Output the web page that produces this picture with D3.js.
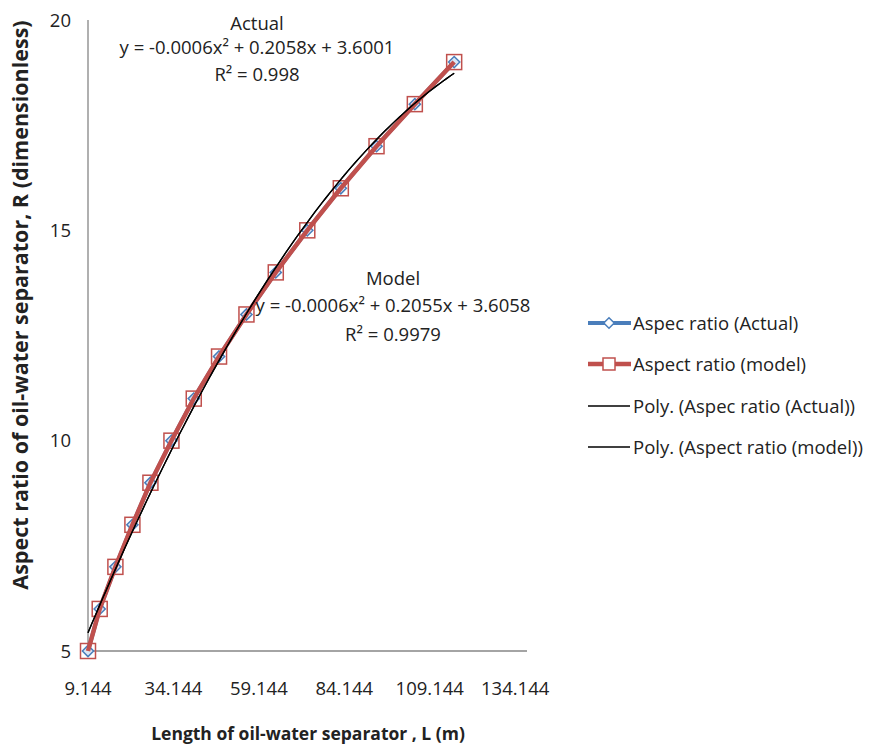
<!DOCTYPE html>
<html>
<head>
<meta charset="utf-8">
<script src="https://cdn.jsdelivr.net/npm/d3@7"></script>
<style>
  body { margin: 0; background: #fff; }
  text { font-family: 'Open Sans', sans-serif; fill: #222; }
</style>
</head>
<body>
<svg id="chart" width="869" height="749"></svg>
<script>
// values
const lengthActual = [9.144, 12.57, 17.16, 22.14, 27.41, 33.56, 40.09, 47.49, 55.51, 64.09, 73.31, 83.12, 93.57, 104.78, 116.29]
const ratioActual = [5, 6, 7, 8, 9, 10, 11, 12, 13, 14, 15, 16, 17, 18, 19]
const lengthModel = [9.144, 12.57, 17.16, 22.14, 27.41, 33.56, 40.09, 47.49, 55.51, 64.09, 73.31, 83.12, 93.57, 104.78, 116.29]
const ratioModel = [5, 6, 7, 8, 9, 10, 11, 12, 13, 14, 15, 16, 17, 18, 19]
const xTicks = [9.144, 34.144, 59.144, 84.144, 109.144, 134.144]
const yTicks = [5, 10, 15, 20]
const legendLabels = ['Aspec ratio (Actual)', 'Aspect ratio (model)', 'Poly. (Aspec ratio (Actual))', 'Poly. (Aspect ratio (model))']

const svg = d3.select('#chart')

const xs = d3.scaleLinear().domain([9.144, 137.6]).range([88, 527])
const ys = d3.scaleLinear().domain([5, 20]).range([651, 20])

// least squares quadratic fit (Excel style poly trendline)
function polyFit(xv, yv) {
  let s = [0, 0, 0, 0, 0], t = [0, 0, 0]
  xv.forEach((x, i) => {
    for (let k = 0; k < 5; k++) s[k] += Math.pow(x, k)
    for (let k = 0; k < 3; k++) t[k] += Math.pow(x, k) * yv[i]
  })
  // solve 3x3 system by Cramer's rule
  const m = [[s[0], s[1], s[2]], [s[1], s[2], s[3]], [s[2], s[3], s[4]]]
  const det = (a) =>
    a[0][0] * (a[1][1] * a[2][2] - a[1][2] * a[2][1]) -
    a[0][1] * (a[1][0] * a[2][2] - a[1][2] * a[2][0]) +
    a[0][2] * (a[1][0] * a[2][1] - a[1][1] * a[2][0])
  const D = det(m)
  const coef = [0, 1, 2].map((c) => {
    const mc = m.map((row, r) => row.map((v, j) => (j === c ? t[r] : v)))
    return det(mc) / D
  })
  return (x) => coef[0] + coef[1] * x + coef[2] * x * x
}

// axes
const axisColor = '#868686'
svg.append('line').attr('x1', xs(9.144)).attr('x2', xs(9.144))
  .attr('y1', ys(5)).attr('y2', ys(20)).attr('stroke', axisColor).attr('stroke-width', 1.3)
svg.append('line').attr('x1', xs(9.144)).attr('x2', xs(137.6))
  .attr('y1', ys(5)).attr('y2', ys(5)).attr('stroke', axisColor).attr('stroke-width', 1.3)

svg.append('g').selectAll('text').data(xTicks).join('text')
  .attr('x', (d) => xs(d)).attr('y', 695)
  .attr('text-anchor', 'middle').attr('font-size', 18.5)
  .text((d) => d.toFixed(3))

svg.append('g').selectAll('text').data(yTicks).join('text')
  .attr('x', 71).attr('y', (d) => ys(d) + 6.5)
  .attr('text-anchor', 'end').attr('font-size', 18.5)
  .text((d) => d)

svg.append('text').attr('x', 308).attr('y', 740)
  .attr('text-anchor', 'middle').attr('font-size', 17.5).attr('font-weight', 'bold')
  .text('Length of oil-water separator , L (m)')

svg.append('text').attr('transform', 'translate(28, 305) rotate(-90)')
  .attr('text-anchor', 'middle').attr('font-size', 21.5).attr('font-weight', 'bold')
  .text('Aspect ratio of oil-water separator, R (dimensionless)')

// series
const actual = lengthActual.map((x, i) => ({ x: x, y: ratioActual[i] }))
const model = lengthModel.map((x, i) => ({ x: x, y: ratioModel[i] }))
const line = d3.line().x((d) => xs(d.x)).y((d) => ys(d.y))

svg.append('path').datum(actual).attr('d', line)
  .attr('fill', 'none').attr('stroke', '#4a7ebb').attr('stroke-width', 4)
svg.append('g').selectAll('path').data(actual).join('path')
  .attr('transform', (d) => `translate(${xs(d.x)},${ys(d.y)})`)
  .attr('d', d3.symbol(d3.symbolDiamond2, 80))
  .attr('fill', '#dbe6f4').attr('stroke', '#4a7ebb').attr('stroke-width', 1.5)

svg.append('path').datum(model).attr('d', line)
  .attr('fill', 'none').attr('stroke', '#c0504d').attr('stroke-width', 4.5)
svg.append('g').selectAll('rect').data(model).join('rect')
  .attr('x', (d) => xs(d.x) - 7.5).attr('y', (d) => ys(d.y) - 7.5)
  .attr('width', 15).attr('height', 15)
  .attr('fill', 'none').attr('stroke', '#c0504d').attr('stroke-width', 1.5)

// trendlines
;[[lengthActual, ratioActual], [lengthModel, ratioModel]].forEach(([xv, yv]) => {
  const f = polyFit(xv, yv)
  const pts = d3.range(0, 101).map((k) => {
    const x = xv[0] + (xv[xv.length - 1] - xv[0]) * k / 100
    return { x: x, y: f(x) }
  })
  svg.append('path').datum(pts).attr('d', line)
    .attr('fill', 'none').attr('stroke', '#000').attr('stroke-width', 1.3)
})

// equation labels
function label(cx, lines) {
  lines.forEach(([y, txt]) => {
    svg.append('text').attr('x', cx).attr('y', y)
      .attr('text-anchor', 'middle').attr('font-size', 18.5)
      .text(txt)
  })
}
label(257, [
  [30, 'Actual'],
  [54, 'y = -0.0006x² + 0.2058x + 3.6001'],
  [81, 'R² = 0.998'],
])
label(393, [
  [285, 'Model'],
  [312, 'y = -0.0006x² + 0.2055x + 3.6058'],
  [341, 'R² = 0.9979'],
])

// legend
const legendY = [323, 364, 406, 447]
const lg = svg.append('g')
legendLabels.forEach((name, i) => {
  const y = legendY[i]
  if (i === 0) {
    lg.append('line').attr('x1', 588).attr('x2', 631).attr('y1', y).attr('y2', y)
      .attr('stroke', '#4a7ebb').attr('stroke-width', 4)
    lg.append('path').attr('transform', `translate(609,${y})`)
      .attr('d', d3.symbol(d3.symbolDiamond2, 70))
      .attr('fill', '#fff').attr('stroke', '#4a7ebb').attr('stroke-width', 1.5)
  } else if (i === 1) {
    lg.append('line').attr('x1', 588).attr('x2', 631).attr('y1', y).attr('y2', y)
      .attr('stroke', '#c0504d').attr('stroke-width', 4.5)
    lg.append('rect').attr('x', 603).attr('y', y - 6).attr('width', 12).attr('height', 12)
      .attr('fill', '#fff').attr('stroke', '#c0504d').attr('stroke-width', 1.5)
  } else {
    lg.append('line').attr('x1', 588).attr('x2', 630).attr('y1', y).attr('y2', y)
      .attr('stroke', '#000').attr('stroke-width', 1.3)
  }
  lg.append('text').attr('x', 633).attr('y', y + 6.5).attr('font-size', 18.5).text(name)
})
</script>
</body>
</html>
